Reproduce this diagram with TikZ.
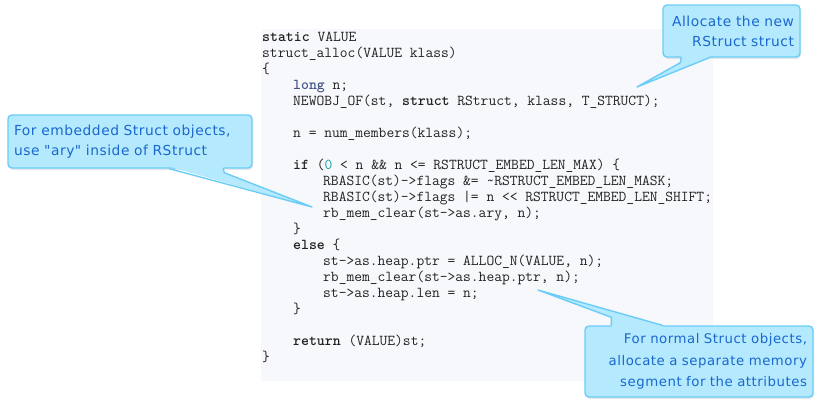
\documentclass[tikz,border=0pt]{standalone}
\usepackage{fontspec}
\newfontfamily\notefont[LetterSpace=4]{DejaVu Sans}
\usetikzlibrary{calc,shadows}

\definecolor{codebg}{HTML}{F7F8FC}
\definecolor{codetext}{HTML}{222222}
\definecolor{kwblue}{HTML}{445588}
\definecolor{numteal}{HTML}{11A0A0}
\definecolor{notefill}{HTML}{B5EAFE}
\definecolor{noteline}{HTML}{6BCDF6}
\definecolor{notetext}{HTML}{1A67CF}

\begin{document}
\begin{tikzpicture}[x=1pt,y=-1pt,
  code/.style={anchor=base west, inner sep=0pt, text=codetext,
    font=\ttfamily\fontsize{15.1}{16}\selectfont},
  note/.style={draw=noteline, fill=notefill, line width=1.4pt,
    rounded corners=4pt, text=notetext, inner xsep=6pt, inner ysep=0pt,
    font=\notefont\fontsize{13.8}{20}\selectfont,
    drop shadow={shadow xshift=1pt, shadow yshift=-2pt, opacity=.18}},
  tail/.style={draw=noteline, line width=1.4pt, line join=round, line cap=round}]

\useasboundingbox (0,0) rectangle (822,410);

%% code background
\fill[codebg] (261,29) rectangle (713,381);

%% code lines
\node[code] (c0) at (262,41) {\textbf{static} VALUE};
\node[code] (c1) at (262,57) {struct\_alloc(VALUE klass)};
\node[code] (c2) at (262,73) {\{};
\node[code] (c3) at (293,89) {\textcolor{kwblue}{\textbf{long}} n;};
\node[code] (c4) at (293,105) {NEWOBJ\_OF(st, \textbf{struct} RStruct, klass, T\_STRUCT);};
\node[code] (c6) at (293,137) {n = num\_members(klass);};
\node[code] (c8) at (293,169) {\textbf{if} (\textcolor{numteal}{0} < n \&\& n <= RSTRUCT\_EMBED\_LEN\_MAX) \{};
\node[code] (c9) at (323,185) {RBASIC(st)->flags \&= \textasciitilde RSTRUCT\_EMBED\_LEN\_MASK;};
\node[code] (c10) at (323,201) {RBASIC(st)->flags |= n << RSTRUCT\_EMBED\_LEN\_SHIFT;};
\node[code] (c11) at (323,217) {rb\_mem\_clear(st->as.ary, n);};
\node[code] (c12) at (293,233) {\}};
\node[code] (c13) at (293,249) {\textbf{else} \{};
\node[code] (c14) at (323,265) {st->as.heap.ptr = ALLOC\_N(VALUE, n);};
\node[code] (c15) at (323,281) {rb\_mem\_clear(st->as.heap.ptr, n);};
\node[code] (c16) at (323,297) {st->as.heap.len = n;};
\node[code] (c17) at (293,313) {\}};
\node[code] (c19) at (293,345) {\textbf{return} (VALUE)st;};
\node[code] (c20) at (262,361) {\}};

%% callout boxes
\node[note, text width=125pt, align=right, minimum height=52pt] (alloc) at (731.5,31)
  {Allocate the new\\RStruct struct};
\node[note, text width=232pt, align=left, minimum height=53pt] (embed) at (130,141.5)
  {For embedded Struct objects,\\use "ary" inside of RStruct};
\node[note, text width=216pt, align=right, minimum height=71pt,
  font=\notefont\fontsize{13.3}{21.5}\selectfont] (heap) at (699,361.5)
  {For normal Struct objects,\\allocate a separate memory\\segment for the attributes};

%% tail tips
\coordinate (allocTip) at (637,87);
\coordinate (embedTip) at (312,207);
\coordinate (heapTip) at (538,290);

%% tails
\fill[notefill] ([xshift=19pt,yshift=2pt]alloc.south west) -- ([xshift=18pt,yshift=-5pt]alloc.south west)
  -- (allocTip) -- ([xshift=47pt]alloc.south west) -- ([xshift=47pt,yshift=2pt]alloc.south west) -- cycle;
\draw[tail] ([xshift=19pt]alloc.south west) -- ([xshift=18pt,yshift=-5pt]alloc.south west) -- (allocTip)
  -- ([xshift=47pt]alloc.south west);

\fill[notefill] ([xshift=162pt,yshift=2pt]embed.south west) -- (embedTip)
  -- ([xshift=217pt,yshift=-4pt]embed.south west) -- ([xshift=216pt,yshift=2pt]embed.south west) -- cycle;
\draw[tail] ([xshift=162pt]embed.south west) -- (embedTip) -- ([xshift=217pt,yshift=-4pt]embed.south west)
  -- ([xshift=216pt]embed.south west);

\fill[notefill] ([xshift=27pt,yshift=-2pt]heap.north west) -- ([xshift=27pt,yshift=8pt]heap.north west)
  -- (heapTip) -- ([xshift=78pt]heap.north west) -- ([xshift=78pt,yshift=-2pt]heap.north west) -- cycle;
\draw[tail] ([xshift=27pt]heap.north west) -- ([xshift=27pt,yshift=8pt]heap.north west) -- (heapTip)
  -- ([xshift=78pt]heap.north west);

\end{tikzpicture}
\end{document}
